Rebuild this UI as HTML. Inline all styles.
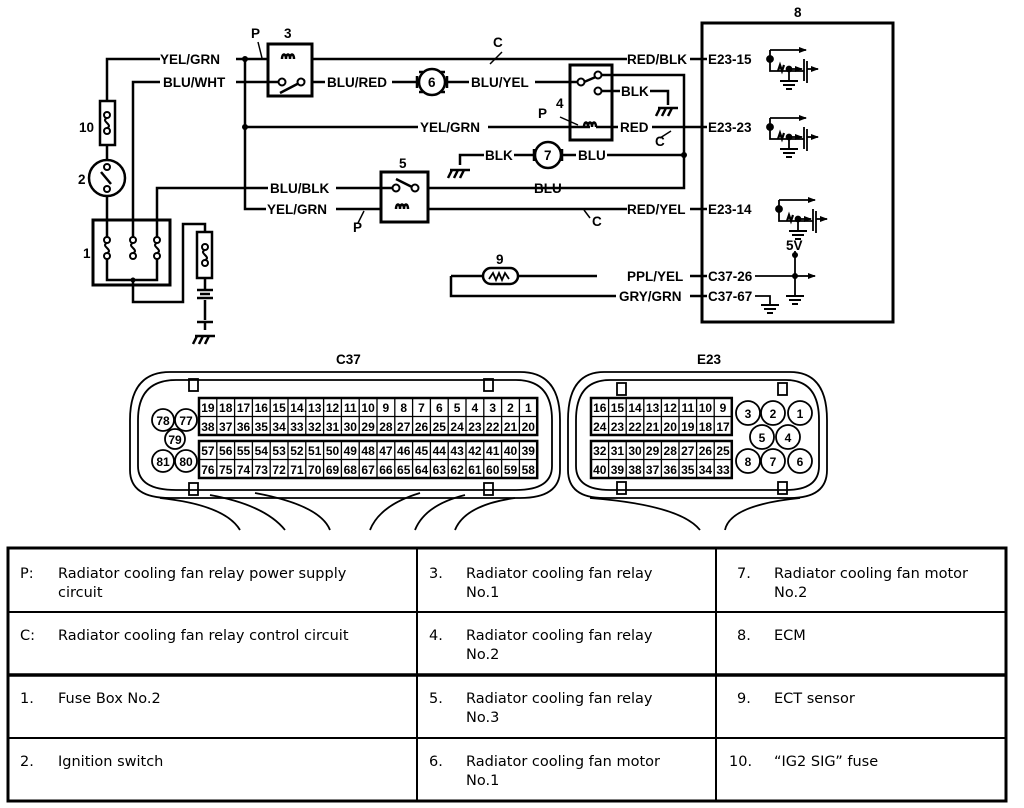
<!DOCTYPE html>
<html><head><meta charset="utf-8"><style>
html,body{margin:0;padding:0;background:#fff}
svg{display:block}
.l{font-family:"Liberation Sans",sans-serif;font-weight:bold;font-size:13.5px;fill:#000}
.t{font-family:"DejaVu Sans","Liberation Sans",sans-serif;font-size:14.5px;fill:#000}
.p{font-family:"Liberation Sans",sans-serif;font-weight:bold;font-size:12px;fill:#000;text-anchor:middle}
</style></head><body>
<svg width="1024" height="808" viewBox="0 0 1024 808" xmlns="http://www.w3.org/2000/svg">
<defs>
<marker id="ar" markerWidth="8" markerHeight="6" refX="7" refY="3" orient="auto" markerUnits="userSpaceOnUse"><path d="M0,0L8,3L0,6z" fill="#000"/></marker>
<g id="gnd"><path d="M-9,0H9M-6,4H6M-3,8H3" stroke="#000" stroke-width="2" fill="none"/></g>
<g id="cg"><path d="M-10,0H10M-8,0l-4,8M-2,0l-4,8M4,0l-4,8" stroke="#000" stroke-width="2.5" fill="none"/></g>
<g id="fs" stroke="#000" stroke-width="2" fill="#fff"><circle cx="0" cy="-8" r="3"/><circle cx="0" cy="8" r="3"/><path d="M0,-5c-7,3 7,7 0,10" fill="none"/></g>
<g id="tr" stroke="#000" stroke-width="1.8" fill="none">
<circle cx="0" cy="0" r="3" fill="#000"/>
<path d="M0,-9V12H34"/><path d="M0,-9H36" marker-end="url(#ar)"/>
<path d="M34,0V22M37,2V24"/><path d="M37,10H48" marker-end="url(#ar)"/>
<path d="M19,10H32" marker-end="url(#ar)"/><circle cx="19" cy="10" r="2.5" fill="#000"/>
<path d="M19,10V22"/><use href="#gnd" x="19" y="22"/>
<path d="M8,12l2,-6l2,6l2,-6" stroke-width="2.2"/>
</g>
</defs>
<g stroke="#000" stroke-width="2.5" fill="none">
<path d="M107,101V59H160M236,59H268M312,59H627"/>
<path d="M133,220V82H160M236,82H282"/>
<path d="M245,59V209H266M336,209H381M428,209H627"/>
<path d="M245,127H418M488,127H590M596,127H618M652,127H707"/>
<path d="M313,82H325M392,82H417M447,82H469M535,82H582"/>
<path d="M598,75H684V188H428"/>
<path d="M601,91H620M650,91H668V105"/>
<path d="M460,165V155H484M514,155H534M562,155H576M607,155H684"/>
<path d="M157,220V188H268M336,188H393"/>
<path d="M690,59H707M690,209H707M690,276H707M690,296H707"/>
<path d="M451,276H483M518,276H597M451,276V296H616"/>
<rect x="100" y="101" width="15" height="44"/>
<path d="M107,145V160M107,196V220"/>
<circle cx="107" cy="178" r="18"/>
<rect x="93" y="220" width="77" height="65" stroke-width="3"/>
<path d="M107,220V238M133,220V238M157,220V238M107,258V280H157V258M133,280V302H183V224H205V232"/>
<rect x="197" y="232" width="15" height="46"/>
<path d="M205,278V290M197,290H213M200,294H210M197,298H213M205,300V320M197,322H213M205,322V330"/>
<use href="#cg" x="205" y="336"/>
<rect x="268" y="44" width="44" height="52" stroke-width="3"/>
<path d="M282,59c0,-6 4,-6 4,0c0,-6 4,-6 4,0c0,-6 4,-6 4,0"/>
<path d="M280,93L305,80"/>
<circle cx="432" cy="82" r="13"/><path d="M417,76v12M447,76v12M419,72h4M419,92h4M441,72h4M441,92h4"/>
<rect x="570" y="65" width="42" height="75" stroke-width="3"/>
<path d="M584,82L598,76"/>
<path d="M584,127c0,-6 4,-6 4,0c0,-6 4,-6 4,0c0,-6 4,-6 4,0"/>
<path d="M560,117L578,125" stroke-width="1.5"/>
<path d="M660,138L671,131" stroke-width="1.5"/>
<circle cx="548" cy="155" r="13"/><path d="M534,149v12M562,149v12"/>
<rect x="381" y="172" width="47" height="50" stroke-width="3"/>
<path d="M396,179L412,187"/>
<path d="M396,209c0,-6 4,-6 4,0c0,-6 4,-6 4,0c0,-6 4,-6 4,0"/>
<path d="M358,223L364,211" stroke-width="1.5"/>
<path d="M590,218L584,210" stroke-width="1.5"/>
<path d="M490,64L502,52" stroke-width="1.5"/>
<path d="M258,42L262,58" stroke-width="1.5"/>
<rect x="483" y="268" width="35" height="16" rx="8"/>
<path d="M489,279l4,-6l3,7l3,-7l3,7l3,-7l4,6" stroke-width="1.8"/>
<rect x="702" y="23" width="191" height="299" stroke-width="3"/>
<path d="M795,251V296M755,276H800" stroke-width="1.8"/>
<path d="M800,276H815" stroke-width="1.8" marker-end="url(#ar)"/>
<path d="M755,296H770V305" stroke-width="1.8"/>
</g>
<g stroke="#000" stroke-width="2" fill="#fff">
<circle cx="282" cy="82" r="3.5"/><circle cx="301" cy="82" r="3.5"/>
<circle cx="581" cy="82" r="3.5"/><circle cx="598" cy="75" r="3.5"/><circle cx="598" cy="91" r="3.5"/>
<circle cx="396" cy="188" r="3.5"/><circle cx="415" cy="188" r="3.5"/>
<circle cx="107" cy="167" r="3"/><circle cx="107" cy="189" r="3"/>
</g>
<path d="M101,172l10,12" stroke="#000" stroke-width="2.5"/>
<use href="#fs" x="107" y="123"/>
<use href="#fs" x="107" y="248"/><use href="#fs" x="133" y="248"/><use href="#fs" x="157" y="248"/>
<use href="#fs" x="205" y="255"/>
<use href="#cg" x="460" y="170"/>
<use href="#cg" x="668" y="108"/>
<use href="#gnd" x="770" y="305"/>
<use href="#gnd" x="795" y="296"/>
<use href="#tr" x="770" y="59"/>
<use href="#tr" x="770" y="127"/>
<use href="#tr" x="779" y="209"/>
<g fill="#000"><circle cx="245" cy="59" r="3"/><circle cx="245" cy="127" r="3"/><circle cx="684" cy="155" r="3"/><circle cx="133" cy="280" r="2.5"/><circle cx="795" cy="276" r="3"/><circle cx="795" cy="255" r="3"/></g>
<g class="l">
<text x="160" y="64">YEL/GRN</text><text x="163" y="87">BLU/WHT</text>
<text x="327" y="87">BLU/RED</text><text x="471" y="87">BLU/YEL</text>
<text x="627" y="64">RED/BLK</text><text x="420" y="132">YEL/GRN</text>
<text x="620" y="132">RED</text><text x="621" y="96">BLK</text>
<text x="485" y="160">BLK</text><text x="578" y="160">BLU</text>
<text x="270" y="193">BLU/BLK</text><text x="534" y="193">BLU</text>
<text x="267" y="214">YEL/GRN</text><text x="627" y="214">RED/YEL</text>
<text x="627" y="281">PPL/YEL</text><text x="619" y="301">GRY/GRN</text>
<text x="708" y="64">E23-15</text><text x="708" y="132">E23-23</text>
<text x="708" y="214">E23-14</text><text x="708" y="281">C37-26</text><text x="708" y="301">C37-67</text>
<text x="786" y="250">5V</text>
<text x="251" y="38">P</text><text x="284" y="38">3</text><text x="493" y="47">C</text>
<text x="79" y="132">10</text><text x="78" y="184">2</text><text x="83" y="258">1</text>
<text x="556" y="108">4</text><text x="538" y="118">P</text><text x="655" y="146">C</text>
<text x="399" y="168">5</text><text x="353" y="232">P</text><text x="592" y="226">C</text>
<text x="496" y="264">9</text><text x="794" y="17">8</text>
<text x="336" y="364">C37</text><text x="697" y="364">E23</text>
<text x="428" y="87">6</text><text x="544" y="160">7</text>
</g>
<g stroke="#000" stroke-width="1.8" fill="none">
<path d="M170,372H520Q560,372 560,420V470Q560,498 520,498H170Q130,498 130,470V420Q130,372 170,372Z"/>
<path d="M176,380H516Q552,380 552,420V466Q552,490 516,490H176Q138,490 138,466V420Q138,380 176,380Z"/>
<rect x="189" y="379" width="9" height="12"/><rect x="484" y="379" width="9" height="12"/>
<rect x="189" y="483" width="9" height="12"/><rect x="484" y="483" width="9" height="12"/>
<path d="M160,498Q225,505 240,530M210,495Q265,505 285,530M255,493Q320,505 330,530M420,493Q380,505 370,530M465,495Q425,505 415,530M515,498Q465,505 455,530"/>
<path d="M604,372H790Q827,372 827,420V470Q827,498 790,498H604Q568,498 568,470V420Q568,372 604,372Z"/>
<path d="M610,380H786Q819,380 819,420V466Q819,490 786,490H610Q576,490 576,466V420Q576,380 610,380Z"/>
<rect x="617" y="383" width="9" height="12"/><rect x="778" y="383" width="9" height="12"/>
<rect x="617" y="482" width="9" height="12"/><rect x="778" y="482" width="9" height="12"/>
<path d="M590,498Q680,505 700,530M800,498Q730,505 725,530"/>
<circle cx="163" cy="420" r="11"/><circle cx="186" cy="420" r="11"/><circle cx="175" cy="439" r="10"/><circle cx="163" cy="461" r="11"/><circle cx="186" cy="461" r="11"/>
<circle cx="748" cy="413" r="12"/><circle cx="773" cy="413" r="12"/><circle cx="800" cy="413" r="12"/><circle cx="762" cy="437" r="12"/><circle cx="788" cy="437" r="12"/><circle cx="748" cy="461" r="12"/><circle cx="773" cy="461" r="12"/><circle cx="800" cy="461" r="12"/>
</g>
<!-- grids -->
<g stroke="#000" fill="none">
<path stroke-width="2.5" d="M199,398H537.2V435H199ZM199,441H537.2V478H199ZM591,398H731.8V435H591ZM591,441H731.8V478H591Z"/>
<path stroke-width="1.3" d="M199,416.5H537.2M199,459.5H537.2M591,416.5H731.8M591,459.5H731.8
M216.8,398V435M234.6,398V435M252.4,398V435M270.2,398V435M288,398V435M305.8,398V435M323.6,398V435M341.4,398V435M359.2,398V435M377,398V435M394.8,398V435M412.6,398V435M430.4,398V435M448.2,398V435M466,398V435M483.8,398V435M501.6,398V435M519.4,398V435
M216.8,441V478M234.6,441V478M252.4,441V478M270.2,441V478M288,441V478M305.8,441V478M323.6,441V478M341.4,441V478M359.2,441V478M377,441V478M394.8,441V478M412.6,441V478M430.4,441V478M448.2,441V478M466,441V478M483.8,441V478M501.6,441V478M519.4,441V478
M608.6,398V435M626.2,398V435M643.8,398V435M661.4,398V435M679,398V435M696.6,398V435M714.2,398V435
M608.6,441V478M626.2,441V478M643.8,441V478M661.4,441V478M679,441V478M696.6,441V478M714.2,441V478"/>
</g>
<g class="p">
<text x="207.9" y="412">19</text><text x="225.7" y="412">18</text><text x="243.5" y="412">17</text><text x="261.3" y="412">16</text><text x="279.1" y="412">15</text><text x="296.9" y="412">14</text><text x="314.7" y="412">13</text><text x="332.5" y="412">12</text><text x="350.3" y="412">11</text><text x="368.1" y="412">10</text><text x="385.9" y="412">9</text><text x="403.7" y="412">8</text><text x="421.5" y="412">7</text><text x="439.3" y="412">6</text><text x="457.1" y="412">5</text><text x="474.9" y="412">4</text><text x="492.7" y="412">3</text><text x="510.5" y="412">2</text><text x="528.3" y="412">1</text>
<text x="207.9" y="431">38</text><text x="225.7" y="431">37</text><text x="243.5" y="431">36</text><text x="261.3" y="431">35</text><text x="279.1" y="431">34</text><text x="296.9" y="431">33</text><text x="314.7" y="431">32</text><text x="332.5" y="431">31</text><text x="350.3" y="431">30</text><text x="368.1" y="431">29</text><text x="385.9" y="431">28</text><text x="403.7" y="431">27</text><text x="421.5" y="431">26</text><text x="439.3" y="431">25</text><text x="457.1" y="431">24</text><text x="474.9" y="431">23</text><text x="492.7" y="431">22</text><text x="510.5" y="431">21</text><text x="528.3" y="431">20</text>
<text x="207.9" y="455">57</text><text x="225.7" y="455">56</text><text x="243.5" y="455">55</text><text x="261.3" y="455">54</text><text x="279.1" y="455">53</text><text x="296.9" y="455">52</text><text x="314.7" y="455">51</text><text x="332.5" y="455">50</text><text x="350.3" y="455">49</text><text x="368.1" y="455">48</text><text x="385.9" y="455">47</text><text x="403.7" y="455">46</text><text x="421.5" y="455">45</text><text x="439.3" y="455">44</text><text x="457.1" y="455">43</text><text x="474.9" y="455">42</text><text x="492.7" y="455">41</text><text x="510.5" y="455">40</text><text x="528.3" y="455">39</text>
<text x="207.9" y="474">76</text><text x="225.7" y="474">75</text><text x="243.5" y="474">74</text><text x="261.3" y="474">73</text><text x="279.1" y="474">72</text><text x="296.9" y="474">71</text><text x="314.7" y="474">70</text><text x="332.5" y="474">69</text><text x="350.3" y="474">68</text><text x="368.1" y="474">67</text><text x="385.9" y="474">66</text><text x="403.7" y="474">65</text><text x="421.5" y="474">64</text><text x="439.3" y="474">63</text><text x="457.1" y="474">62</text><text x="474.9" y="474">61</text><text x="492.7" y="474">60</text><text x="510.5" y="474">59</text><text x="528.3" y="474">58</text>
<text x="599.8" y="412">16</text><text x="617.4" y="412">15</text><text x="635" y="412">14</text><text x="652.6" y="412">13</text><text x="670.2" y="412">12</text><text x="687.8" y="412">11</text><text x="705.4" y="412">10</text><text x="723" y="412">9</text>
<text x="599.8" y="431">24</text><text x="617.4" y="431">23</text><text x="635" y="431">22</text><text x="652.6" y="431">21</text><text x="670.2" y="431">20</text><text x="687.8" y="431">19</text><text x="705.4" y="431">18</text><text x="723" y="431">17</text>
<text x="599.8" y="455">32</text><text x="617.4" y="455">31</text><text x="635" y="455">30</text><text x="652.6" y="455">29</text><text x="670.2" y="455">28</text><text x="687.8" y="455">27</text><text x="705.4" y="455">26</text><text x="723" y="455">25</text>
<text x="599.8" y="474">40</text><text x="617.4" y="474">39</text><text x="635" y="474">38</text><text x="652.6" y="474">37</text><text x="670.2" y="474">36</text><text x="687.8" y="474">35</text><text x="705.4" y="474">34</text><text x="723" y="474">33</text>
<text x="163" y="425">78</text><text x="186" y="425">77</text><text x="175" y="444">79</text><text x="163" y="466">81</text><text x="186" y="466">80</text>
<text x="748" y="418">3</text><text x="773" y="418">2</text><text x="800" y="418">1</text><text x="762" y="442">5</text><text x="788" y="442">4</text><text x="748" y="466">8</text><text x="773" y="466">7</text><text x="800" y="466">6</text>
</g>
<g stroke="#000" fill="none">
<rect x="8" y="548" width="998" height="253" stroke-width="3"/>
<path d="M417,548V801M716,548V801" stroke-width="2"/>
<path d="M8,612H1006M8,738H1006" stroke-width="2"/>
<path d="M8,675H1006" stroke-width="3.5"/>
</g>
<g class="t">
<text x="20" y="578">P:</text><text x="58" y="578">Radiator cooling fan relay power supply</text><text x="58" y="597">circuit</text>
<text x="20" y="640">C:</text><text x="58" y="640">Radiator cooling fan relay control circuit</text>
<text x="20" y="703">1.</text><text x="58" y="703">Fuse Box No.2</text>
<text x="20" y="766">2.</text><text x="58" y="766">Ignition switch</text>
<text x="429" y="578">3.</text><text x="466" y="578">Radiator cooling fan relay</text><text x="466" y="597">No.1</text>
<text x="429" y="640">4.</text><text x="466" y="640">Radiator cooling fan relay</text><text x="466" y="659">No.2</text>
<text x="429" y="703">5.</text><text x="466" y="703">Radiator cooling fan relay</text><text x="466" y="722">No.3</text>
<text x="429" y="766">6.</text><text x="466" y="766">Radiator cooling fan motor</text><text x="466" y="785">No.1</text>
<text x="737" y="578">7.</text><text x="774" y="578">Radiator cooling fan motor</text><text x="774" y="597">No.2</text>
<text x="737" y="640">8.</text><text x="774" y="640">ECM</text>
<text x="737" y="703">9.</text><text x="774" y="703">ECT sensor</text>
<text x="729" y="766">10.</text><text x="774" y="766">“IG2 SIG” fuse</text>
</g>
</svg>
</body></html>
